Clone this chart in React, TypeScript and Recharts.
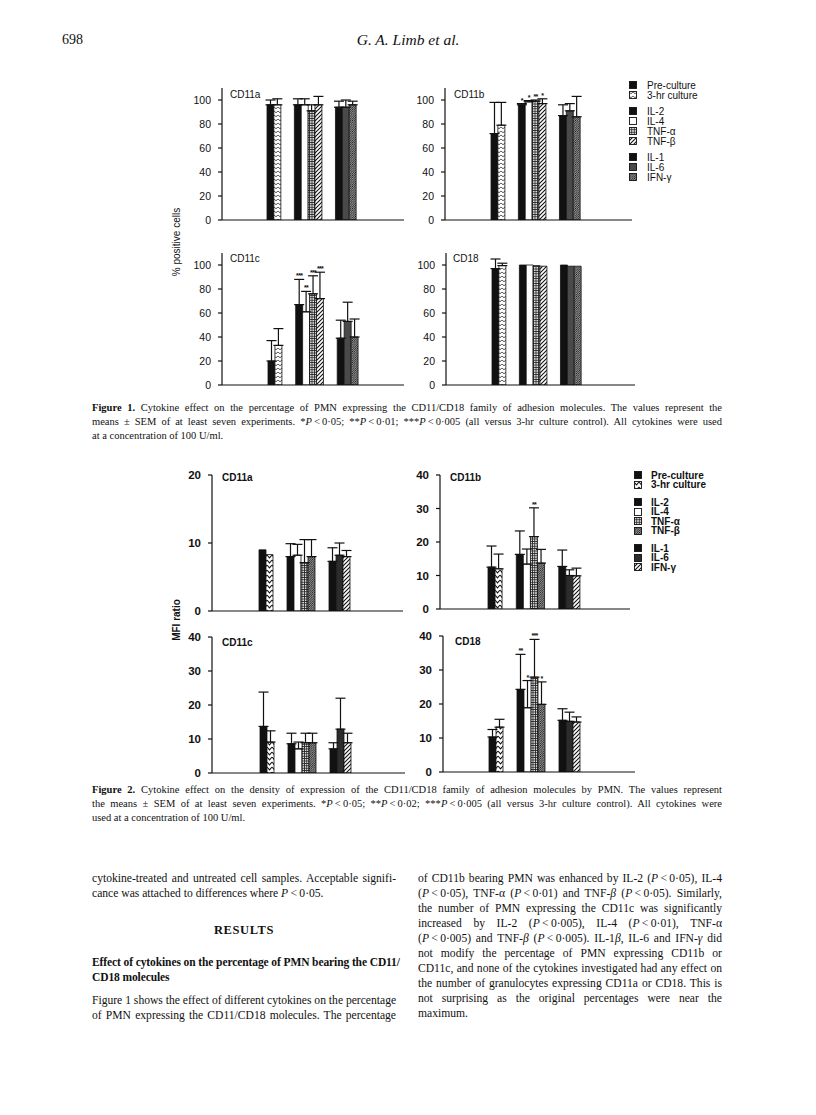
import React from "react";
import {
  Bar,
  Cell,
  ComposedChart,
  ErrorBar,
  LabelList,
  Line,
  XAxis,
  YAxis,
} from "recharts";

const SERIF = "'Liberation Serif', 'Times New Roman', serif";
const SANS = "'Liberation Sans', Arial, sans-serif";

// treatments, in legend order
const treatments = ["Pre-culture", "3-hr culture", "IL-2", "IL-4", "TNF-α", "TNF-β", "IL-1", "IL-6", "IFN-γ"];
const groupOf = [0, 0, 1, 1, 1, 1, 2, 2, 2];
// bar slots along the x axis (-1 = empty slot between groups)
const slotOrder = [0, 1, -1, -1, 2, 3, 4, 5, -1, -1, 6, 7, 8];

// Figure 1: % positive cells
const pctTicks = [0, 20, 40, 60, 80, 100];
const pctCD11a = [96, 96, 96, 96, 91, 96, 94, 94, 96];
const pctCD11aSem = [4, 5, 5, 5, 5, 7, 5, 6, 3];
const pctCD11aSig = ["", "", "", "", "", "", "", "", ""];
const pctCD11b = [72, 79, 96, 98.5, 99, 97, 87, 91, 86];
const pctCD11bSem = [26, 19, 1, 1, 1, 4, 9, 6, 17];
const pctCD11bSig = ["", "", "*", "*", "**", "*", "", "", ""];
const pctCD11c = [20, 33, 67, 61, 76, 72, 39, 53, 40];
const pctCD11cSem = [17, 14, 21, 17, 15, 22, 15, 16, 15];
const pctCD11cSig = ["", "", "***", "**", "***", "***", "", "", ""];
const pctCD18 = [97, 99.5, 100, 100, 99.5, 99, 100, 99, 99];
const pctCD18Sem = [8, 2, 0, 0, 0, 0, 0, 0, 0];
const pctCD18Sig = ["", "", "", "", "", "", "", "", ""];

// Figure 2: MFI ratio
const mfiTicks20 = [0, 10, 20];
const mfiTicks40 = [0, 10, 20, 30, 40];
const mfiCD11a = [9.0, 8.3, 8.0, 8.2, 7.1, 8.0, 7.3, 8.2, 8.0];
const mfiCD11aSem = [0, 0, 1.9, 1.6, 3.4, 2.5, 2.0, 1.8, 0.9];
const mfiCD11aSig = ["", "", "", "", "", "", "", "", ""];
const mfiCD11b = [12.5, 12, 16.3, 13.4, 21.6, 13.7, 12.7, 10, 9.9];
const mfiCD11bSem = [6.3, 4.4, 7, 4.5, 8.6, 4.1, 4.9, 1.7, 2.3];
const mfiCD11bSig = ["", "", "", "", "**", "", "", "", ""];
const mfiCD11c = [13.7, 9.1, 8.6, 7.1, 8.9, 8.9, 7.1, 12.9, 8.9];
const mfiCD11cSem = [10.1, 3.3, 3.1, 2.0, 2.8, 2.8, 1.8, 9.1, 2.8];
const mfiCD11cSig = ["", "", "", "", "", "", "", "", ""];
const mfiCD18 = [10.3, 13.2, 24.3, 18.9, 27.9, 19.9, 15.2, 14.9, 14.7];
const mfiCD18Sem = [2.2, 2.3, 10.3, 8, 11.1, 6.6, 3.4, 2.7, 1.5];
const mfiCD18Sig = ["", "", "**", "*", "***", "*", "", "", ""];

const fig1Fills = ["#111", "url(#zig1)", "#111", "#fff", "url(#grid)", "url(#wide)", "#111", "#4a4a4a", "url(#dense)"];
const fig2Fills = ["#111", "url(#zig2)", "#111", "#fff", "url(#grid)", "url(#dense)", "#111", "#2c2c2c", "url(#wide)"];

const buildRows = (means: number[], sems: number[], sigs: string[]) =>
  slotOrder.map((t, i) =>
    t < 0
      ? { name: "gap" + i, t, value: null, err: null, top: null, sig: "" }
      : {
          name: treatments[t],
          t,
          value: means[t],
          err: sems[t] > 0 ? [0, sems[t]] : null,
          top: means[t] + sems[t],
          sig: sigs[t],
        }
  );

const renderStars = (props: any) => {
  const { x, y, value } = props;
  if (!value) return null;
  return (
    <text
      x={x}
      y={y - 1}
      textAnchor="middle"
      fontSize={7}
      fontWeight="bold"
      fontFamily={SANS}
      letterSpacing={-0.7}
      fill="#111"
    >
      {value}
    </text>
  );
};

const YW = 40;

const Panel = (p: any) => {
  const rows = buildRows(p.means, p.sems, p.sigs);
  const plotW = p.right - p.axisX;
  const width = YW + plotW + 2;
  const height = p.plotH + 11;
  return (
    <div style={{ position: "absolute", left: p.axisX - YW, top: p.plotTop - 6 }}>
      <ComposedChart
        width={width}
        height={height}
        data={rows}
        margin={{ top: 6, right: 2, bottom: 4, left: 0 }}
        barCategoryGap={0}
        barGap={0}
      >
        <XAxis
          dataKey="name"
          type="category"
          tick={false}
          tickLine={false}
          axisLine={{ stroke: "#111", strokeWidth: 1.2 }}
          height={1}
          padding={{ left: p.padL, right: p.padR }}
        />
        <YAxis
          type="number"
          domain={p.domain}
          ticks={p.ticks}
          interval={0}
          allowDataOverflow
          width={YW}
          tickSize={4}
          tickMargin={7}
          axisLine={{ stroke: "#111", strokeWidth: 1.2 }}
          tickLine={{ stroke: "#111", strokeWidth: 1.2 }}
          tick={{ fontSize: p.bold ? 11.5 : 10.5, fontWeight: p.bold ? "bold" : "normal", fill: "#111", fontFamily: SANS }}
        />
        <Bar dataKey="value" isAnimationActive={false} stroke="#111" strokeWidth={0.8}>
          {rows.map((r, i) => (
            <Cell key={i} fill={r.t >= 0 ? p.fills[r.t] : "none"} />
          ))}
          <ErrorBar dataKey="err" width={5} stroke="#111" strokeWidth={1.2} direction="y" />
        </Bar>
        <Line dataKey="top" stroke="none" dot={false} activeDot={false} isAnimationActive={false} legendType="none">
          <LabelList dataKey="sig" content={renderStars} />
        </Line>
      </ComposedChart>
      <div
        style={{
          position: "absolute",
          left: YW + p.titleDx,
          top: 6 + p.titleDy - 7,
          lineHeight: "14px",
          fontFamily: SANS,
          fontSize: 10,
          fontWeight: p.bold ? "bold" : "normal",
          color: "#111",
        }}
      >
        {p.title}
      </div>
    </div>
  );
};

const Legend = ({ x, y, lineH, gap, fills, bold, textGap }: any) => (
  <>
    {treatments.map((t, i) => {
      const cy = y + i * lineH + groupOf[i] * gap;
      return (
        <div
          key={t}
          style={{
            position: "absolute",
            left: x,
            top: cy - 6,
            height: 12,
            display: "flex",
            alignItems: "center",
            fontFamily: SANS,
            fontSize: 10,
            fontWeight: bold ? "bold" : "normal",
            color: "#111",
            whiteSpace: "nowrap",
          }}
        >
          <svg width={8} height={8} style={{ marginRight: textGap }}>
            <rect x={0.5} y={0.5} width={7} height={7} fill={fills[i]} stroke="#111" strokeWidth={0.9} />
          </svg>
          <span>{t}</span>
        </div>
      );
    })}
  </>
);

const TextLine = ({ x, y, w, size, lh, justify, children, style }: any) => (
  <div
    style={{
      position: "absolute",
      left: x,
      top: y - lh / 2,
      width: w,
      height: lh,
      lineHeight: lh + "px",
      fontFamily: SERIF,
      fontSize: size,
      color: "#111",
      whiteSpace: "nowrap",
      textAlign: justify ? "justify" : "left",
      textAlignLast: justify ? "justify" : "left",
      ...style,
    }}
  >
    {children}
  </div>
);

const P = () => <i>P</i>;
const lt = "\u2009<\u2009";

const App = () => {
  const capX = 92;
  const capW = 630;
  const capSize = 10.5;
  const leftX = 92;
  const rightX = 418;
  const colW = 304;
  const bodySize = 11.6;
  const bodyY = 878;
  const bodyLH = 15.05;
  const rightLines: any[] = [
    <>of CD11b bearing PMN was enhanced by IL-2 (<P />{lt}0·05), IL-4</>,
    <>(<P />{lt}0·05), TNF-α (<P />{lt}0·01) and TNF-<i>β</i> (<P />{lt}0·05). Similarly,</>,
    <>the number of PMN expressing the CD11c was significantly</>,
    <>increased by IL-2 (<P />{lt}0·005), IL-4 (<P />{lt}0·01), TNF-α</>,
    <>(<P />{lt}0·005) and TNF-<i>β</i> (<P />{lt}0·005). IL-1<i>β</i>, IL-6 and IFN-<i>γ</i> did</>,
    <>not modify the percentage of PMN expressing CD11b or</>,
    <>CD11c, and none of the cytokines investigated had any effect on</>,
    <>the number of granulocytes expressing CD11a or CD18. This is</>,
    <>not surprising as the original percentages were near the</>,
    <>maximum.</>,
  ];

  return (
    <div style={{ position: "absolute", left: 0, top: 0, width: 816, height: 1115, background: "#fff", overflow: "hidden" }}>
      <svg width={0} height={0} style={{ position: "absolute" }}>
        <defs>
          <pattern id="zig1" width="4" height="4" patternUnits="userSpaceOnUse">
            <rect width="4" height="4" fill="#fff" />
            <path d="M0,0.8 L2,2.8 L4,0.8" stroke="#111" strokeWidth="0.8" fill="none" />
          </pattern>
          <pattern id="zig2" width="5" height="5" patternUnits="userSpaceOnUse">
            <rect width="5" height="5" fill="#fff" />
            <path d="M0,1 L2.5,3.8 L5,1" stroke="#111" strokeWidth="1.1" fill="none" />
          </pattern>
          <pattern id="grid" width="2.4" height="2.4" patternUnits="userSpaceOnUse">
            <rect width="2.4" height="2.4" fill="#ddd" />
            <path d="M0,0.4 H2.4 M0.4,0 V2.4" stroke="#222" strokeWidth="0.8" />
          </pattern>
          <pattern id="wide" width="4" height="4" patternUnits="userSpaceOnUse">
            <rect width="4" height="4" fill="#fff" />
            <path d="M-1,1 L1,-1 M0,4 L4,0 M3,5 L5,3" stroke="#111" strokeWidth="1.1" />
          </pattern>
          <pattern id="dense" width="2.2" height="2.2" patternUnits="userSpaceOnUse">
            <rect width="2.2" height="2.2" fill="#bbb" />
            <path d="M-0.55,0.55 L0.55,-0.55 M0,2.2 L2.2,0 M1.65,2.75 L2.75,1.65" stroke="#111" strokeWidth="0.8" />
          </pattern>
        </defs>
      </svg>

      {/* running head */}
      <div style={{ position: "absolute", left: 62, top: 32, fontFamily: SERIF, fontSize: 14, color: "#111" }}>698</div>
      <div style={{ position: "absolute", left: 0, width: 816, top: 31, textAlign: "center", fontFamily: SERIF, fontSize: 15.5, fontStyle: "italic", color: "#111" }}>
        G. A. Limb et al.
      </div>

      {/* Figure 1 */}
      <div style={{ position: "absolute", left: 177 - 50, top: 242 - 7, width: 100, height: 14, lineHeight: "14px", textAlign: "center", transform: "rotate(-90deg)", fontFamily: SANS, fontSize: 10, color: "#111" }}>
        % positive cells
      </div>
      <Panel title="CD11a" means={pctCD11a} sems={pctCD11aSem} sigs={pctCD11aSig} fills={fig1Fills} domain={[0, 110]} ticks={pctTicks} axisX={222} plotTop={88} plotH={132} right={404} padL={45} padR={48} titleDx={8} titleDy={7} />
      <Panel title="CD11b" means={pctCD11b} sems={pctCD11bSem} sigs={pctCD11bSig} fills={fig1Fills} domain={[0, 110]} ticks={pctTicks} axisX={445} plotTop={88} plotH={132} right={632} padL={46} padR={52} titleDx={9} titleDy={7} />
      <Panel title="CD11c" means={pctCD11c} sems={pctCD11cSem} sigs={pctCD11cSig} fills={fig1Fills} domain={[0, 110]} ticks={pctTicks} axisX={222} plotTop={253} plotH={132} right={404} padL={46} padR={46} titleDx={8} titleDy={6} />
      <Panel title="CD18" means={pctCD18} sems={pctCD18Sem} sigs={pctCD18Sig} fills={fig1Fills} domain={[0, 110]} ticks={pctTicks} axisX={446} plotTop={253} plotH={132} right={635} padL={46} padR={54} titleDx={7} titleDy={6} />
      <Legend x={629} y={85} lineH={10} gap={6} fills={fig1Fills} bold={false} textGap={10} />

      <TextLine x={capX} y={408} w={capW} size={capSize} lh={14} justify>
        <b>Figure 1.</b> Cytokine effect on the percentage of PMN expressing the CD11/CD18 family of adhesion molecules. The values represent the
      </TextLine>
      <TextLine x={capX} y={422} w={capW} size={capSize} lh={14} justify>
        means ± SEM of at least seven experiments. *<P />{lt}0·05; **<P />{lt}0·01; ***<P />{lt}0·005 (all versus 3-hr culture control). All cytokines were used
      </TextLine>
      <TextLine x={capX} y={436} w={capW} size={capSize} lh={14}>
        at a concentration of 100 U/ml.
      </TextLine>

      {/* Figure 2 */}
      <div style={{ position: "absolute", left: 177 - 40, top: 620 - 7, width: 80, height: 14, lineHeight: "14px", textAlign: "center", transform: "rotate(-90deg)", fontFamily: SANS, fontSize: 10, fontWeight: "bold", color: "#111" }}>
        MFI ratio
      </div>
      <Panel title="CD11a" means={mfiCD11a} sems={mfiCD11aSem} sigs={mfiCD11aSig} fills={fig2Fills} domain={[0, 20]} ticks={mfiTicks20} axisX={212} plotTop={475} plotH={136} right={403} padL={47} padR={53} titleDx={10} titleDy={3} bold />
      <Panel title="CD11b" means={mfiCD11b} sems={mfiCD11bSem} sigs={mfiCD11bSig} fills={fig2Fills} domain={[0, 40]} ticks={mfiTicks40} axisX={440} plotTop={475} plotH={134} right={630} padL={48} padR={50} titleDx={10} titleDy={3} bold />
      <Panel title="CD11c" means={mfiCD11c} sems={mfiCD11cSem} sigs={mfiCD11cSig} fills={fig2Fills} domain={[0, 40]} ticks={mfiTicks40} axisX={212} plotTop={637} plotH={136} right={405} padL={48} padR={54} titleDx={10} titleDy={6} bold />
      <Panel title="CD18" means={mfiCD18} sems={mfiCD18Sem} sigs={mfiCD18Sig} fills={fig2Fills} domain={[0, 40]} ticks={mfiTicks40} axisX={443} plotTop={636} plotH={136} right={635} padL={46} padR={55} titleDx={12} titleDy={6} bold />
      <Legend x={634} y={475} lineH={9.5} gap={8} fills={fig2Fills} bold textGap={9} />

      <TextLine x={capX} y={790} w={capW} size={capSize} lh={14} justify>
        <b>Figure 2.</b> Cytokine effect on the density of expression of the CD11/CD18 family of adhesion molecules by PMN. The values represent
      </TextLine>
      <TextLine x={capX} y={804} w={capW} size={capSize} lh={14} justify>
        the means ± SEM of at least seven experiments. *<P />{lt}0·05; **<P />{lt}0·02; ***<P />{lt}0·005 (all versus 3-hr culture control). All cytokines were
      </TextLine>
      <TextLine x={capX} y={818} w={capW} size={capSize} lh={14}>
        used at a concentration of 100 U/ml.
      </TextLine>

      {/* body text, left column */}
      <TextLine x={leftX} y={bodyY} w={colW} size={bodySize} lh={15} justify>
        cytokine-treated and untreated cell samples. Acceptable signifi-
      </TextLine>
      <TextLine x={leftX} y={bodyY + bodyLH} w={colW} size={bodySize} lh={15}>
        cance was attached to differences where <P />{lt}0·05.
      </TextLine>
      <TextLine x={leftX} y={930} w={colW} size={12.5} lh={16} style={{ textAlign: "center", textAlignLast: "center", fontWeight: "bold", letterSpacing: 0.6 }}>
        RESULTS
      </TextLine>
      <TextLine x={leftX} y={962} w={colW} size={11.5} lh={15} justify style={{ fontWeight: "bold", letterSpacing: -0.1 }}>
        Effect of cytokines on the percentage of PMN bearing the CD11/
      </TextLine>
      <TextLine x={leftX} y={977} w={colW} size={11.5} lh={15} style={{ fontWeight: "bold", letterSpacing: -0.1 }}>
        CD18 molecules
      </TextLine>
      <TextLine x={leftX} y={1000} w={colW} size={bodySize} lh={15} justify>
        Figure 1 shows the effect of different cytokines on the percentage
      </TextLine>
      <TextLine x={leftX} y={1015} w={colW} size={bodySize} lh={15} justify>
        of PMN expressing the CD11/CD18 molecules. The percentage
      </TextLine>

      {/* body text, right column */}
      {rightLines.map((l, i) => (
        <TextLine key={i} x={rightX} y={bodyY + i * bodyLH} w={colW} size={bodySize} lh={15} justify={i < rightLines.length - 1}>
          {l}
        </TextLine>
      ))}
    </div>
  );
};

export default App;
